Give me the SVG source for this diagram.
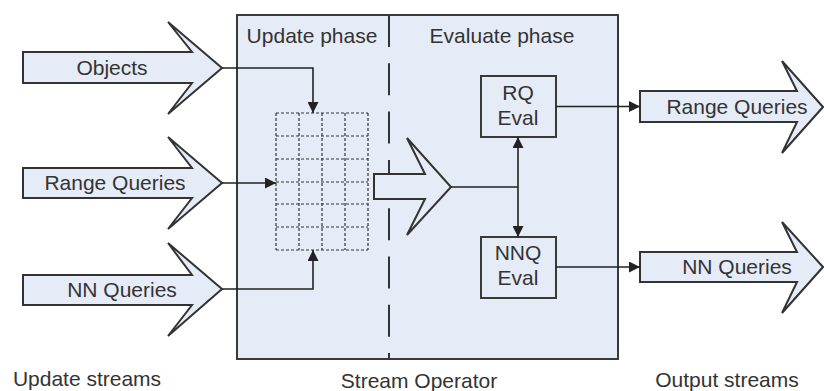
<svg xmlns="http://www.w3.org/2000/svg" width="824" height="391" viewBox="0 0 824 391">
<defs>
<marker id="ah" viewBox="0 0 10 10" refX="10" refY="5" markerWidth="11" markerHeight="11" markerUnits="userSpaceOnUse" orient="auto">
<path d="M0,0 L10,5 L0,10 z" fill="#222"/>
</marker>
<style>
.t{font-family:"Liberation Sans",Arial,sans-serif;font-size:21px;fill:#333;text-anchor:middle}
.fat{fill:#e6ecf7;stroke:#333;stroke-width:2;stroke-linejoin:miter}
.box{fill:#e6ecf7;stroke:#3a3a3a;stroke-width:2}
.c{fill:none;stroke:#222;stroke-width:1.6}
.g{fill:none;stroke:#333;stroke-width:1.2;stroke-dasharray:3 2}
</style>
</defs>
<rect width="824" height="391" fill="#fff"/>
<g id="stream-operator">
<rect x="237" y="15" width="381" height="344" class="box"/>
<path d="M389,15 V359" fill="none" stroke="#333" stroke-width="2" stroke-dasharray="32 16.3"/>
<text class="t" x="312" y="43">Update phase</text>
<text class="t" x="502" y="43">Evaluate phase</text>
</g>
<g id="in-objects">
<path class="fat" d="M23,52 H192 L168,22 L222,68 L168,114 L192,83 H23 Z"/>
<text class="t" x="112" y="75">Objects</text>
</g>
<g id="in-range">
<path class="fat" d="M23,168 H192 L168,137 L222,183 L168,229 L192,198 H23 Z"/>
<text class="t" x="115" y="190">Range Queries</text>
</g>
<g id="in-nn">
<path class="fat" d="M23,275 H192 L168,243 L222,289 L168,336 L192,305 H23 Z"/>
<text class="t" x="122" y="297">NN Queries</text>
</g>
<g id="grid">
<path class="g" d="M276,113 H368 M276,136 H368 M276,159 H368 M276,182 H368 M276,204 H368 M276,227 H368 M276,250 H368"/>
<path class="g" d="M276,113 V250 M299,113 V250 M322,113 V250 M345,113 V250 M368,113 V250"/>
</g>
<g id="mid-arrow">
<path class="fat" d="M374,174 H425 L407,138 L451,187 L407,235 L425,199 H374 Z"/>
</g>
<g id="rq-eval">
<rect x="481" y="76" width="75" height="61" class="box"/>
<text class="t" x="518" y="100">RQ</text>
<text class="t" x="518" y="125">Eval</text>
</g>
<g id="nnq-eval">
<rect x="481" y="237" width="75" height="61" class="box"/>
<text class="t" x="518" y="260">NNQ</text>
<text class="t" x="518" y="285">Eval</text>
</g>
<g id="out-range">
<path class="fat" d="M640,91 H797 L782,61 L823,107 L782,153 L797,122 H640 Z"/>
<text class="t" x="737" y="114">Range Queries</text>
</g>
<g id="out-nn">
<path class="fat" d="M640,252 H797 L782,222 L823,267 L782,313 L797,282 H640 Z"/>
<text class="t" x="737" y="274">NN Queries</text>
</g>
<g id="connectors">
<path class="c" d="M222,68 H313 V113" marker-end="url(#ah)"/>
<path class="c" d="M222,183 H276" marker-end="url(#ah)"/>
<path class="c" d="M222,289 H313 V250" marker-end="url(#ah)"/>
<path class="c" d="M451,187 H518"/>
<path class="c" d="M518,187 V137" marker-end="url(#ah)"/>
<path class="c" d="M518,187 V237" marker-end="url(#ah)"/>
<path class="c" d="M556,106.5 H640" marker-end="url(#ah)"/>
<path class="c" d="M556,267 H640" marker-end="url(#ah)"/>
</g>
<g id="labels">
<text class="t" x="87" y="386">Update streams</text>
<text class="t" x="419" y="388">Stream Operator</text>
<text class="t" x="727" y="387">Output streams</text>
</g>
</svg>
